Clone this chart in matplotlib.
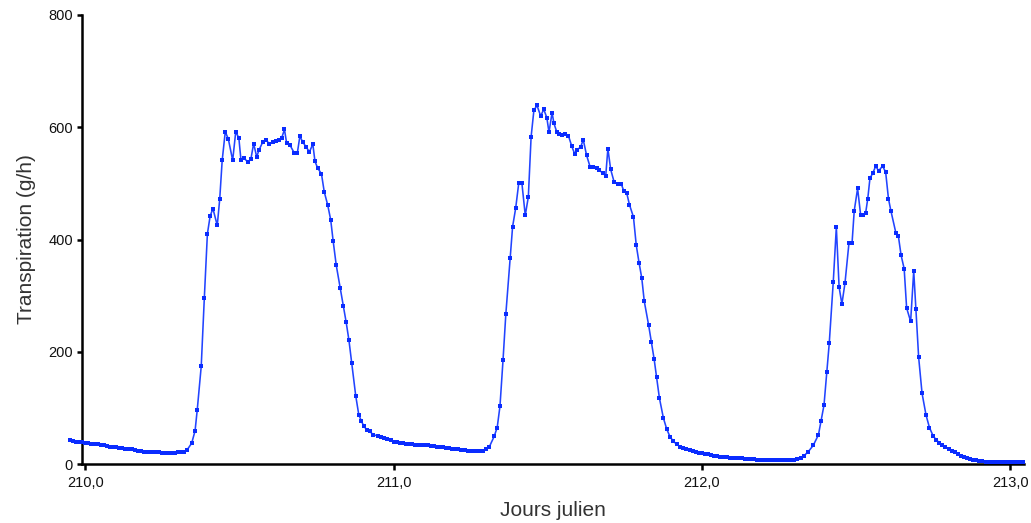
import numpy as np
import matplotlib
matplotlib.use("Agg")
import matplotlib.pyplot as plt
from matplotlib.ticker import FuncFormatter

# ---------------- data ----------------
# Night 1: regular 0.01-day sampling starting at 209.95
night1_start = 209.95
night1_vals = [42, 41, 40, 40, 39, 38, 37, 36, 36, 35, 34, 33, 32, 31, 30, 30, 29, 28, 27,
               27, 26, 25, 24, 23, 22, 22, 21, 21, 21, 21, 20, 20, 19, 19, 20, 21, 21, 22, 25]

# Day 1 (times)
day1_t = [210.345, 210.356, 210.363, 210.376, 210.386, 210.396, 210.405, 210.414, 210.428,
          210.436, 210.444, 210.454, 210.464, 210.478, 210.488, 210.498, 210.505, 210.515,
          210.527, 210.537, 210.546, 210.556, 210.563, 210.575, 210.586, 210.597, 210.608,
          210.619, 210.628, 210.637, 210.646, 210.653, 210.664, 210.677, 210.688, 210.696,
          210.705, 210.716, 210.727, 210.738, 210.745, 210.754, 210.766, 210.775, 210.786,
          210.796, 210.804, 210.814, 210.827, 210.837, 210.846, 210.855, 210.864, 210.877,
          210.887, 210.895, 210.904, 210.913, 210.923, 210.934]
day1_v = [37, 59, 96, 174, 295, 410, 442, 455, 425, 472, 541, 592, 579, 541, 592, 581, 541,
          545, 538, 543, 571, 547, 559, 573, 578, 570, 573, 576, 578, 581, 596, 572, 568, 555,
          555, 584, 574, 565, 556, 570, 539, 527, 517, 485, 462, 435, 397, 354, 313, 281, 253,
          221, 180, 122, 88, 77, 67, 61, 58, 52]

# Night 2: regular 0.01-day sampling starting at 210.95
night2_start = 210.95
night2_vals = [50, 48, 46, 44, 42, 40, 39, 38, 37, 36, 35, 35, 34, 34, 33, 33, 33, 32, 32, 31,
               31, 30, 29, 28, 27, 26, 26, 25, 25, 24, 24, 24, 24, 24, 24, 26, 30]

# Day 2
day2_t = [211.326, 211.336, 211.345, 211.355, 211.364, 211.378, 211.386, 211.396, 211.406,
          211.416, 211.427, 211.437, 211.446, 211.455, 211.465, 211.477, 211.487, 211.497,
          211.504, 211.514, 211.520, 211.529, 211.538, 211.547, 211.557, 211.567, 211.578,
          211.587, 211.596, 211.607, 211.615, 211.626, 211.637, 211.648, 211.659, 211.667,
          211.678, 211.688, 211.695, 211.704, 211.715, 211.729, 211.739, 211.747, 211.756,
          211.765, 211.778, 211.787, 211.796, 211.805, 211.813, 211.827, 211.836, 211.845,
          211.853, 211.862, 211.875, 211.886, 211.897, 211.907, 211.918]
day2_v = [49, 65, 103, 186, 267, 367, 423, 456, 501, 501, 443, 476, 583, 630, 639, 620, 632,
          617, 591, 626, 607, 592, 588, 586, 588, 585, 566, 553, 560, 565, 578, 550, 530, 529,
          528, 523, 519, 513, 562, 525, 503, 498, 498, 486, 483, 462, 440, 390, 359, 331, 290,
          248, 217, 187, 155, 118, 82, 62, 48, 41, 35]

# Night 3: regular 0.01-day sampling starting at 211.93
night3_start = 211.93
night3_vals = [31, 29, 27, 25, 23, 21, 20, 19, 18, 17, 16, 15, 14, 13, 12, 12, 11, 11, 10, 10,
               10, 9, 9, 9, 9, 8, 8, 8, 8, 7, 7, 7, 7, 7, 7, 7, 7, 8, 9, 11, 14]

# Day 3
day3_t = [212.345, 212.361, 212.378, 212.386, 212.396, 212.405, 212.413, 212.426, 212.436,
          212.445, 212.454, 212.464, 212.477, 212.487, 212.494, 212.505, 212.515, 212.524,
          212.531, 212.538, 212.545, 212.554, 212.564, 212.573, 212.586, 212.596, 212.605,
          212.613, 212.629, 212.637, 212.646, 212.656, 212.664, 212.677, 212.687, 212.694,
          212.703, 212.714, 212.727, 212.738]
day3_v = [22, 33, 52, 76, 105, 164, 215, 324, 422, 315, 285, 322, 394, 394, 451, 491, 443,
          444, 447, 473, 509, 518, 531, 522, 531, 520, 473, 451, 412, 407, 372, 348, 278, 254,
          344, 277, 190, 126, 87, 65]

# Night 4 tail: regular 0.01-day sampling starting at 212.75
night4_start = 212.75
night4_vals = [50, 43, 38, 34, 30, 27, 24, 21, 18, 15, 13, 11, 9, 8, 7, 6, 5, 4, 4, 3,
               3, 3, 3, 3, 3, 3, 3, 3, 3, 3]

x_ticks = [210.0, 211.0, 212.0, 213.0]
y_ticks = [0, 200, 400, 600, 800]
x_label = "Jours julien"
y_label = "Transpiration (g/h)"


def night_times(start, vals):
    return list(start + 0.01 * np.arange(len(vals)))


t = (night_times(night1_start, night1_vals) + day1_t +
     night_times(night2_start, night2_vals) + day2_t +
     night_times(night3_start, night3_vals) + day3_t +
     night_times(night4_start, night4_vals))
v = night1_vals + day1_v + night2_vals + day2_v + night3_vals + day3_v + night4_vals

# ---------------- figure ----------------
plt.rcParams['font.family'] = ['Liberation Sans', 'DejaVu Sans']

fig = plt.figure(figsize=(10.31, 5.23), dpi=100)
ax = fig.add_axes([82 / 1031, (523 - 464) / 523, (1024 - 82) / 1031, (464 - 15) / 523])

ax.plot(t, v, color='#2244ff', lw=1.15, marker='s', markersize=2.6,
        markerfacecolor='#0a2cff', markeredgewidth=0,
        clip_on=False, zorder=3)

ax.set_xlim(209.9893, 213.0447)
ax.set_ylim(0, 800)
ax.set_xticks(x_ticks)
ax.set_yticks(y_ticks)
ax.xaxis.set_major_formatter(FuncFormatter(lambda x, p: f"{x:.1f}".replace('.', ',')))

for s in ['top', 'right']:
    ax.spines[s].set_visible(False)
for s in ['left', 'bottom']:
    ax.spines[s].set_linewidth(1.8)
    ax.spines[s].set_color('black')

ax.tick_params(axis='both', direction='out', width=1.8, colors='black', labelcolor='#111111',
               labelsize=10.5)
ax.tick_params(axis='x', length=4.5, pad=4)
ax.tick_params(axis='y', length=3.5, pad=3)

ax.set_xlabel(x_label, fontsize=15, color='#333333', labelpad=8)
ax.set_ylabel(y_label, fontsize=15, color='#333333', labelpad=9)

fig.savefig("out.png", dpi=100)
